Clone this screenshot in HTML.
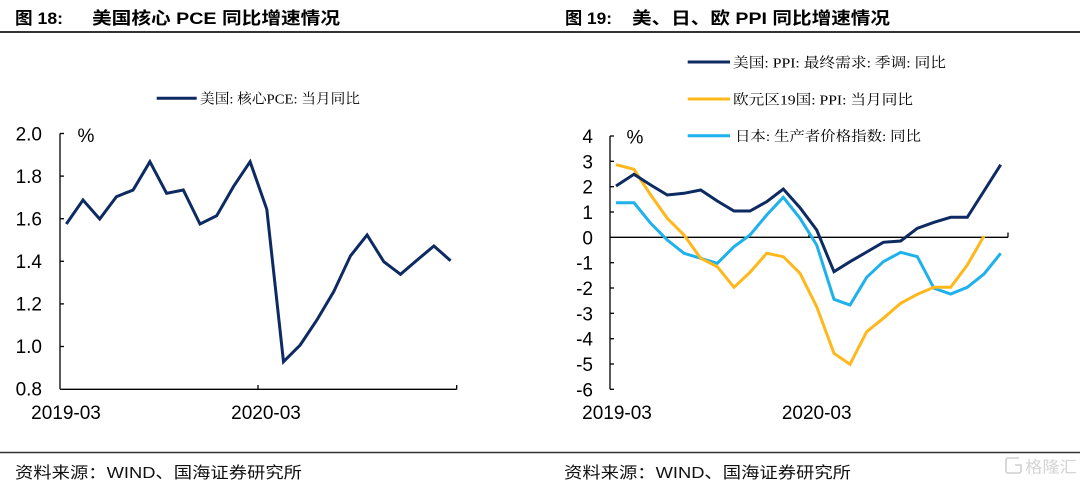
<!DOCTYPE html>
<html><head><meta charset="utf-8"><style>
html,body{margin:0;padding:0;background:#fff;width:1080px;height:481px;overflow:hidden}
svg{display:block}
.num{font-family:"Liberation Sans","Noto Sans CJK SC",sans-serif;font-size:19px;fill:#000}
.lg{font-family:"Liberation Serif","Noto Serif CJK SC",serif;font-size:14px;fill:#000}
.tt{font-family:"Liberation Sans","Noto Sans CJK SC",sans-serif;font-size:17px;font-weight:bold;fill:#000}
.ft{font-family:"Liberation Sans","Noto Sans CJK SC",sans-serif;font-size:16px;fill:#111}
</style></head><body>
<svg width="1080" height="481" viewBox="0 0 1080 481" xmlns="http://www.w3.org/2000/svg">
<rect width="1080" height="481" fill="#fff"/>
<!-- titles -->
<text class="tt" x="15" y="24" textLength="48" lengthAdjust="spacingAndGlyphs">图 18:</text>
<text class="tt" x="92" y="24" textLength="248" lengthAdjust="spacingAndGlyphs">美国核心 PCE 同比增速情况</text>
<text class="tt" x="565" y="24" textLength="47" lengthAdjust="spacingAndGlyphs">图 19:</text>
<text class="tt" x="632" y="24" textLength="258" lengthAdjust="spacingAndGlyphs">美、日、欧 PPI 同比增速情况</text>
<line x1="0" y1="32" x2="1080" y2="32" stroke="#333" stroke-width="2"/>

<!-- LEFT CHART -->
<line x1="156.7" y1="98.3" x2="196.7" y2="98.3" stroke="#0d2a62" stroke-width="3"/>
<text class="lg" x="200" y="103.5" textLength="160" lengthAdjust="spacingAndGlyphs">美国: 核心PCE: 当月同比</text>

<g stroke="#000" stroke-width="1.3" fill="none">
<line x1="60" y1="133.5" x2="60" y2="389.3"/>
<line x1="60" y1="389.3" x2="456.7" y2="389.3"/>
<line x1="60" y1="133.5" x2="64" y2="133.5"/>
<line x1="60" y1="176.1" x2="64" y2="176.1"/>
<line x1="60" y1="218.7" x2="64" y2="218.7"/>
<line x1="60" y1="261.3" x2="64" y2="261.3"/>
<line x1="60" y1="303.9" x2="64" y2="303.9"/>
<line x1="60" y1="346.5" x2="64" y2="346.5"/>
<line x1="258" y1="389.3" x2="258" y2="385"/>
<line x1="456.7" y1="389.3" x2="456.7" y2="385"/>
</g>
<g class="num" text-anchor="end">
<text x="42" y="140.5">2.0</text>
<text x="42" y="183">1.8</text>
<text x="42" y="225.5">1.6</text>
<text x="42" y="268">1.4</text>
<text x="42" y="310.5">1.2</text>
<text x="42" y="353">1.0</text>
<text x="42" y="395.5">0.8</text>
</g>
<text class="num" x="77.5" y="142">%</text>
<text class="num" x="66" y="419" text-anchor="middle">2019-03</text>
<text class="num" x="266" y="419" text-anchor="middle">2020-03</text>
<polyline fill="none" stroke="#0d2a62" stroke-width="3" stroke-linejoin="miter" points="66.3,224 83,200 99.7,219 116.4,196.7 133.1,190 149.9,161.7 166.6,193.3 183.3,190 200,224 216.7,215.7 233.4,186.7 250.1,161.7 266.8,209.3 283.5,361.7 300.2,345 316.9,320 333.7,291.7 350.4,256 367.1,235 383.8,261.7 400.5,274.3 417.2,260 433.9,246 450.6,260.7"/>

<!-- RIGHT CHART -->
<line x1="687.7" y1="62" x2="730" y2="62" stroke="#0d2a62" stroke-width="3"/>
<text class="lg" x="733" y="67.3" textLength="213" lengthAdjust="spacingAndGlyphs">美国: PPI: 最终需求: 季调: 同比</text>
<line x1="687.7" y1="99" x2="730" y2="99" stroke="#ffb81c" stroke-width="3"/>
<text class="lg" x="733" y="104.3" textLength="180" lengthAdjust="spacingAndGlyphs">欧元区19国: PPI: 当月同比</text>
<line x1="687.7" y1="135.7" x2="730" y2="135.7" stroke="#1fb1ec" stroke-width="3"/>
<text class="lg" x="735" y="141" textLength="186" lengthAdjust="spacingAndGlyphs">日本: 生产者价格指数: 同比</text>

<g stroke="#000" stroke-width="1.3" fill="none">
<line x1="610" y1="136" x2="610" y2="389.3"/>
<line x1="610" y1="237.3" x2="1008" y2="237.3"/>
<line x1="1008" y1="237.3" x2="1008" y2="232.5"/>
<line x1="809" y1="237.3" x2="809" y2="232.5"/>
<line x1="610" y1="136" x2="614" y2="136"/>
<line x1="610" y1="161.3" x2="614" y2="161.3"/>
<line x1="610" y1="186.7" x2="614" y2="186.7"/>
<line x1="610" y1="212" x2="614" y2="212"/>
<line x1="610" y1="262.7" x2="614" y2="262.7"/>
<line x1="610" y1="288" x2="614" y2="288"/>
<line x1="610" y1="313.3" x2="614" y2="313.3"/>
<line x1="610" y1="338.7" x2="614" y2="338.7"/>
<line x1="610" y1="364" x2="614" y2="364"/>
<line x1="610" y1="389.3" x2="614" y2="389.3"/>
</g>
<g class="num" text-anchor="end">
<text x="593" y="143">4</text>
<text x="593" y="168.3">3</text>
<text x="593" y="193.7">2</text>
<text x="593" y="219">1</text>
<text x="593" y="244.3">0</text>
<text x="593" y="269.7">-1</text>
<text x="593" y="295">-2</text>
<text x="593" y="320.3">-3</text>
<text x="593" y="345.7">-4</text>
<text x="593" y="371">-5</text>
<text x="593" y="396.3">-6</text>
</g>
<text class="num" x="626.5" y="143.5">%</text>
<text class="num" x="617" y="419" text-anchor="middle">2019-03</text>
<text class="num" x="816.7" y="419" text-anchor="middle">2020-03</text>

<polyline fill="none" stroke="#1fb1ec" stroke-width="3" points="616,202.7 634,202.7 650.7,223.3 667.3,240 684,253.3 700.7,258.3 717.3,263.3 734,246.7 750,235 766.7,215 783.3,197.3 800,218.3 816.7,245 834,299.3 850,305 866.7,277.3 883.3,261.7 900.7,252.3 917.3,256.7 934,288.3 950.7,294 967.3,287.3 984,274 1000.7,253.3"/>
<polyline fill="none" stroke="#ffb81c" stroke-width="3" points="616,164.7 634,169.3 650.7,195 667.3,218.3 684,235 700.7,258.3 717.3,266.7 734,287.3 750,272.3 766.7,253.3 783.3,256.7 800,273.3 816.7,306.7 834,353.3 850,364.3 866.7,331.7 883.3,318.3 900.7,303.3 917.3,294.3 934,287.3 950.7,287.3 967.3,265 984,236"/>
<polyline fill="none" stroke="#0d2a62" stroke-width="3" points="616,186 634,174.3 650.7,185 667.3,195 684,193.3 700.7,190 717.3,201 734,211 750,211 766.7,201.7 783.3,189 800,207.7 816.7,230 834,271.7 850,261.7 866.7,252 883.3,242.3 900.7,241 917.3,228.3 934,222.3 950.7,217.3 967.3,217.3 984,191 1000.7,164.7"/>

<!-- footer -->
<line x1="0" y1="452.5" x2="1080" y2="452.5" stroke="#333" stroke-width="1.6"/>
<text class="ft" x="15" y="478" textLength="287" lengthAdjust="spacingAndGlyphs">资料来源：WIND、国海证券研究所</text>
<text class="ft" x="564" y="478" textLength="287" lengthAdjust="spacingAndGlyphs">资料来源：WIND、国海证券研究所</text>
<!-- watermark -->
<g fill="none" stroke="#cfcfcf" stroke-width="1.6">
<path d="M1019,458 h-11 a2,2 0 0 0 -2,2 v11 a2,2 0 0 0 2,2 h11 a2,2 0 0 0 2,-2 v-6 h-6"/>
</g>
<text x="1025" y="472.5" font-family="'Noto Sans CJK SC',sans-serif" font-size="16" fill="#d4d4d4" textLength="52" lengthAdjust="spacingAndGlyphs">格隆汇</text>
</svg>
</body></html>
